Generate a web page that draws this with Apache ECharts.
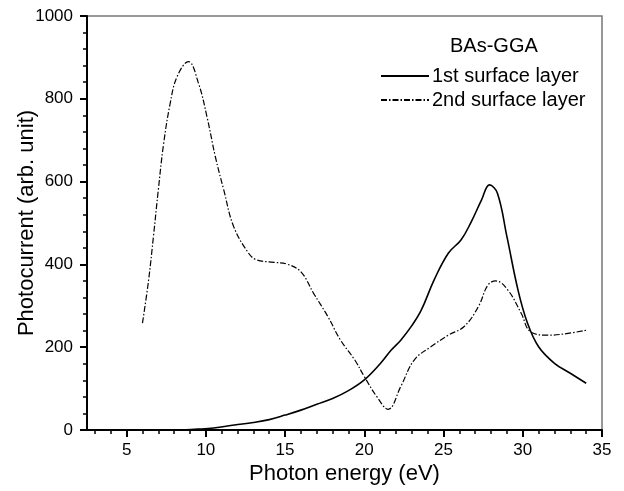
<!DOCTYPE html>
<html>
<head>
<meta charset="utf-8">
<script src="https://cdn.jsdelivr.net/npm/echarts@6/dist/echarts.min.js"></script>
<style>html,body{margin:0;padding:0;background:#fff}#c{width:624px;height:491px}</style>
</head>
<body>
<div id="c"></div>
<script>
// Data
var seriesNames = ["1st surface layer", "2nd surface layer"];
var x1 = [8.5, 9.5, 10.5, 11.8, 13, 14, 15, 16, 17, 18, 19, 20, 21, 21.7, 22.3, 23, 23.6, 24.4, 25.3, 26.1, 26.7, 27.4, 27.9, 28.4, 29, 29.7, 30.3, 31, 32, 33, 34];
var y1 = [0, 2, 5, 12, 18, 25, 36, 48, 62, 76, 95, 121, 160, 193, 217, 252, 290, 362, 427, 459, 499, 556, 592, 572, 467, 338, 258, 201, 161, 137, 113];
var x2 = [6, 6.38, 6.7, 7.0, 7.33, 7.75, 8.18, 8.9, 9.54, 10.07, 10.6, 11.13, 11.76, 12.7, 13.2, 14.3, 15.1, 16, 16.8, 17.7, 18.5, 19.4, 20, 20.8, 21.5, 22.3, 23.15, 24.2, 25.3, 26.3, 27.2, 27.8, 28.3, 29.06, 29.9, 30.5, 31.6, 32.6, 34];
var y2 = [258, 360, 470, 580, 690, 789, 853, 890, 837, 757, 660, 580, 491, 427, 411, 405, 401, 382, 330, 274, 217, 169, 129, 80, 50, 105, 169, 201, 229, 250, 298, 350, 360, 338, 282, 237, 229, 232, 241];
var xMajorTicks = [5, 10, 15, 20, 25, 30, 35];
var xMinorTicks = [3, 4, 6, 7, 8, 9, 11, 12, 13, 14, 16, 17, 18, 19, 21, 22, 23, 24, 26, 27, 28, 29, 31, 32, 33, 34];
var legendTitle = "BAs-GGA";
var xName = "Photon energy (eV)";
var yName = "Photocurrent (arb. unit)";

function zip(a, b) { return a.map(function (v, i) { return [v, b[i]]; }); }

var font = "'Liberation Sans', Arial, sans-serif";
var chart = echarts.init(document.getElementById('c'), null, {renderer: 'canvas'});
chart.setOption({
  animation: false,
  backgroundColor: '#fff',
  color: ['#000', '#000'],
  title: {
    text: legendTitle, left: 445, top: 31,
    textStyle: {fontFamily: font, fontSize: 20, fontWeight: 'normal', color: '#000'}
  },
  legend: {
    orient: 'vertical', left: 375, top: 61, itemWidth: 48, itemHeight: 12, itemGap: 4,
    textStyle: {fontFamily: font, fontSize: 20, color: '#000', padding: [0, 0, 0, -2]},
    itemStyle: {opacity: 0},
    data: seriesNames
  },
  grid: {left: 87, right: 22, top: 16, bottom: 61, outerBoundsMode: 'none', containLabel: false,
    show: true, borderColor: '#777', borderWidth: 1.5, backgroundColor: 'transparent'},
  xAxis: [{
    type: 'value', min: 2.5, max: 35,
    name: xName, nameLocation: 'middle', nameGap: 33, nameMoveOverlap: false,
    nameTextStyle: {fontFamily: font, fontSize: 22, color: '#000'},
    axisLine: {show: true, lineStyle: {color: '#000', width: 2}},
    axisTick: {show: true, customValues: xMajorTicks, length: 7, lineStyle: {color: '#000', width: 2}},
    axisLabel: {customValues: xMajorTicks, fontFamily: font, fontSize: 17, color: '#000', margin: 12},
    splitLine: {show: false}
  }, {
    type: 'value', min: 2.5, max: 35, position: 'bottom', gridIndex: 0,
    axisLine: {show: false},
    axisTick: {show: true, customValues: xMinorTicks, length: 4, lineStyle: {color: '#000', width: 1.5}},
    axisLabel: {show: false},
    splitLine: {show: false}
  }],
  yAxis: {
    type: 'value', min: 0, max: 1000, interval: 200,
    name: yName, nameLocation: 'middle', nameGap: 49, nameMoveOverlap: false,
    nameTextStyle: {fontFamily: font, fontSize: 22, color: '#000'},
    axisLine: {show: true, lineStyle: {color: '#000', width: 2}},
    axisTick: {show: true, length: 7, lineStyle: {color: '#000', width: 2}},
    minorTick: {show: true, splitNumber: 5, length: 4, lineStyle: {color: '#000', width: 1.5}},
    axisLabel: {fontFamily: font, fontSize: 17, color: '#000', margin: 14, formatter: function (v) { return String(v); }},
    splitLine: {show: false}
  },
  series: [{
    name: seriesNames[0], type: 'line', data: zip(x1, y1), smooth: 0.4, symbol: 'none',
    itemStyle: {color: '#000'},
    lineStyle: {color: '#000', width: 1.6, type: 'solid'}
  }, {
    name: seriesNames[1], type: 'line', data: zip(x2, y2), smooth: 0.4, symbol: 'none',
    itemStyle: {color: '#000'},
    lineStyle: {color: '#000', width: 1.2, type: [6, 2, 1.5, 2]}
  }]
});
</script>
</body>
</html>
